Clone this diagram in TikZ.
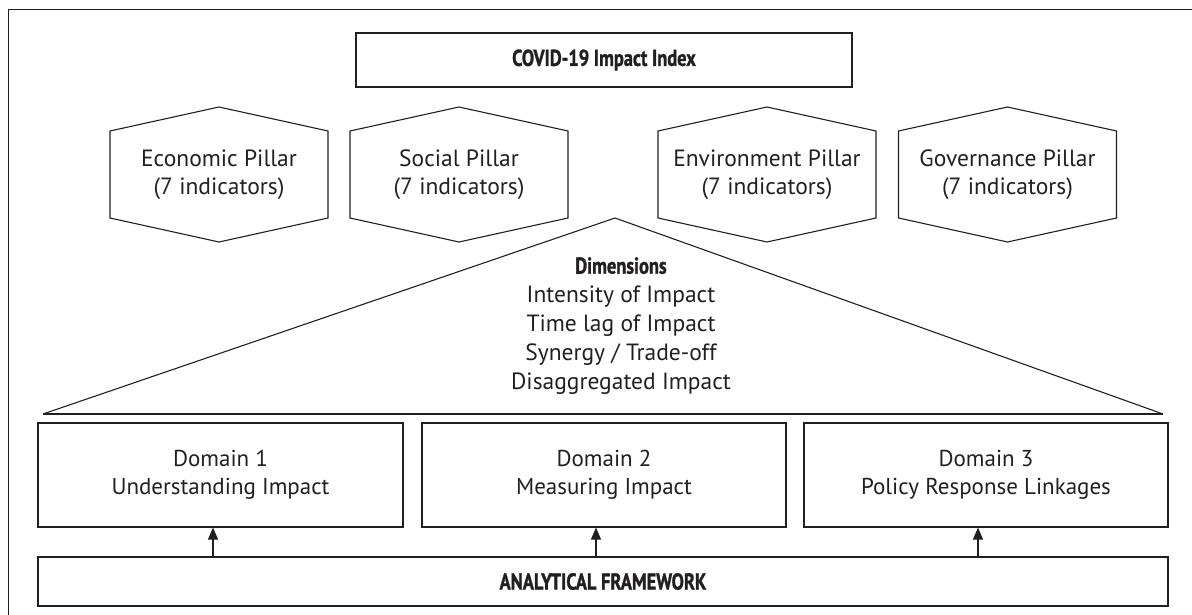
\documentclass[tikz,border=0pt]{standalone}
\usepackage{fontspec}
\setmainfont{PT Sans}
\newfontfamily\condfont[FakeStretch=0.8, BoldFeatures={FakeBold=1.2}]{PT Sans}
\usetikzlibrary{arrows.meta}

\definecolor{ink}{HTML}{231F20}

\tikzset{
  outline/.style={draw=ink, line width=1.1pt},
  boxnode/.style={outline, rectangle, inner sep=0pt, align=center, text=ink,
    font=\fontsize{23}{28}\selectfont},
  pillartext/.style={inner sep=0pt, align=center, text=ink,
    font=\fontsize{23.5}{28}\selectfont},
  headfont/.style={font=\condfont\bfseries\fontsize{23}{26}\selectfont},
  uparrow/.style={draw=ink, line width=1.1pt, -{Triangle[length=12pt,width=10pt]}},
}

% pillar: text node with a pointed hexagon drawn round it
\newcommand\pillarhex[3]{%
  \node[pillartext] (#1) at (#2,175) {#3};
  \draw[outline] ([shift={(-109,-44)}]#1.center) -- ([shift={(0,-68)}]#1.center)
    -- ([shift={(109,-44)}]#1.center) -- ([shift={(109,43)}]#1.center)
    -- ([shift={(0,67)}]#1.center) -- ([shift={(-109,43)}]#1.center) -- cycle;
}

\begin{document}
\begin{tikzpicture}[x=1pt,y=-1pt]
  \useasboundingbox (0,0) rectangle (1192,615);

  % frame edges
  \draw[draw=ink, line width=1.4pt] (8.5,615) -- (8.5,9.5) -- (1192,9.5);

  % index box
  \node[boxnode, minimum width=496pt, minimum height=54pt, headfont] (index) at (604,60)
        {COVID-19 Impact Index};

  % pillars
  \pillarhex{eco}{219}{Economic Pillar\\(7 indicators)}
  \pillarhex{soc}{459}{Social Pillar\\(7 indicators)}
  \pillarhex{env}{767}{Environment Pillar\\(7 indicators)}
  \pillarhex{gov}{1007.5}{Governance Pillar\\(7 indicators)}

  % dimensions triangle
  \coordinate (apex) at (615,218);
  \coordinate (tl) at (43,414);
  \coordinate (tr) at (1163,414);
  \draw[outline] (tl) -- (apex) -- (tr);
  \draw[draw=ink, line width=1.6pt] (tl) -- (tr);
  \node[pillartext, font=\fontsize{23.5}{29}\selectfont] (dims) at (621,326)
    {{\condfont\bfseries\fontsize{23}{29}\selectfont Dimensions}\\
     Intensity of Impact\\Time lag of Impact\\Synergy / Trade-off\\Disaggregated Impact};

  % domains
  \node[boxnode, minimum width=365pt, minimum height=104pt] (d1) at (220.5,475)
    {Domain 1\\Understanding Impact};
  \node[boxnode, minimum width=364pt, minimum height=104pt] (d2) at (604,475)
    {Domain 2\\Measuring Impact};
  \node[boxnode, minimum width=364pt, minimum height=104pt] (d3) at (986,475)
    {Domain 3\\Policy Response Linkages};

  % analytical framework
  \node[boxnode, minimum width=1130pt, minimum height=49pt, headfont] (af) at (603,581.5)
        {ANALYTICAL FRAMEWORK};

  % links from the framework up to each domain
  \draw[uparrow] ([xshift=-7.5pt]d1.south |- af.north) -- ([xshift=-7.5pt]d1.south);
  \draw[uparrow] ([xshift=-8pt]d2.south |- af.north) -- ([xshift=-8pt]d2.south);
  \draw[uparrow] ([xshift=-8pt]d3.south |- af.north) -- ([xshift=-8pt]d3.south);
\end{tikzpicture}
\end{document}
